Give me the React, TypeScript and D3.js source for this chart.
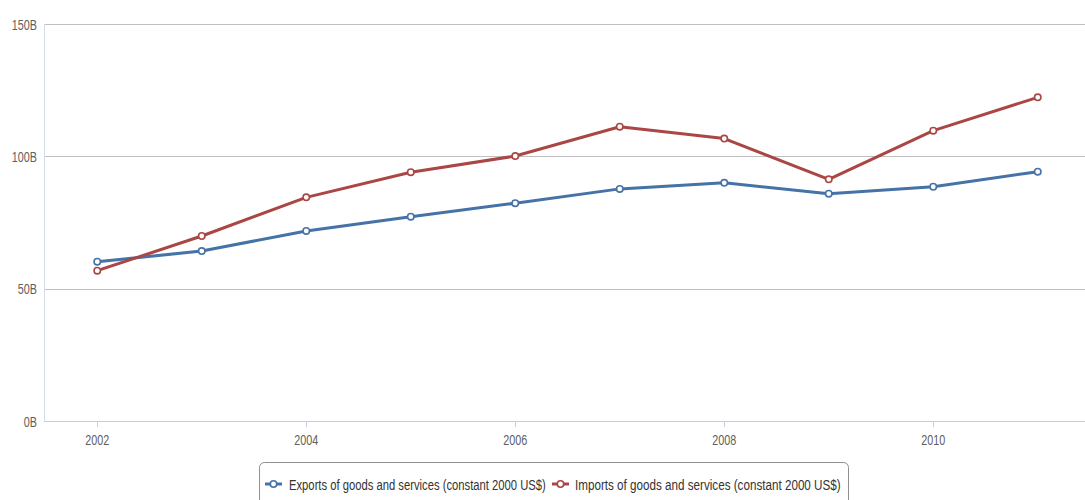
import React from "react";
import * as d3 from "d3";

const years = [2002, 2003, 2004, 2005, 2006, 2007, 2008, 2009, 2010, 2011];
const exportsB = [60.2, 64.2, 71.8, 77.2, 82.3, 87.7, 90.0, 85.9, 88.5, 94.2];
const importsB = [56.8, 69.9, 84.5, 94.0, 100.1, 111.2, 106.7, 91.3, 109.7, 122.3];
const yTicks = [0, 50, 100, 150];
const xTicks = [2002, 2004, 2006, 2008, 2010];
const seriesNames = [
  "Exports of goods and services (constant 2000 US$)",
  "Imports of goods and services (constant 2000 US$)",
];
const seriesColors = ["#4572A7", "#AA4643"];

const W = 1085;
const H = 500;
const FONT_NAME = "Liberation Sans";
const FONT = `'${FONT_NAME}', Arial, sans-serif`;

// Width of a string in the chart font, used to squeeze text into a condensed look.
let measureCtx: CanvasRenderingContext2D | null = null;
function textWidth(s: string, size: number): number {
  if (!measureCtx) {
    const c = document.createElement("canvas");
    measureCtx = c.getContext("2d");
  }
  if (!measureCtx) return s.length * size * 0.55;
  measureCtx.font = `${size}px '${FONT_NAME}', Arial, sans-serif`;
  return measureCtx.measureText(s).width;
}

function NarrowText(props: {
  x: number;
  y: number;
  anchor: "start" | "middle" | "end";
  size: number;
  fill: string;
  sx: number;
  children: string;
}) {
  return (
    <text
      transform={`translate(${props.x},${props.y}) scale(${props.sx},1)`}
      textAnchor={props.anchor}
      fontSize={props.size}
      fill={props.fill}
    >
      {props.children}
    </text>
  );
}

export default function App() {
  const x = d3.scaleLinear().domain([2001.5, 2011.5]).range([45, 1090]);
  const y = d3.scaleLinear().domain([0, 150]).range([421, 24]);
  const line = d3
    .line<number>()
    .x((_, i) => x(years[i]))
    .y((d) => y(d));

  const series = [exportsB, importsB];

  // legend layout
  const legendX = 259;
  const legendY = 462;
  const legendW = 589;
  const legendH = 44;
  const legendMidY = 484;
  const symbolStarts = [265, 552];
  const textStarts = [289, 575];
  const textWidths = [257, 266];
  const legendSize = 15;

  const axisSize = 15;
  const axisSx = 0.72;

  return (
    <div style={{ position: "absolute", left: 0, top: 0 }}>
      <svg width={W} height={H} style={{ display: "block", background: "#fff" }} fontFamily={FONT}>
        {/* horizontal grid */}
        {yTicks.map((t) =>
          t === 0 ? null : (
            <line key={t} x1={44} x2={W} y1={Math.round(y(t)) + 0.5} y2={Math.round(y(t)) + 0.5} stroke="#C0C0C0" strokeWidth={1} />
          )
        )}
        {/* y axis line */}
        <line x1={44.5} x2={44.5} y1={24} y2={421} stroke="#D4DCE6" strokeWidth={1} />
        {/* x axis line */}
        <line x1={44} x2={W} y1={421.5} y2={421.5} stroke="#C0D0E0" strokeWidth={1} />
        {xTicks.map((t) => (
          <line key={t} x1={Math.round(x(t)) + 0.5} x2={Math.round(x(t)) + 0.5} y1={421} y2={427} stroke="#C0D0E0" strokeWidth={1} />
        ))}
        {/* y labels */}
        {yTicks.map((t) => (
          <NarrowText key={t} x={37} y={y(t) + 5.5} anchor="end" size={axisSize} sx={axisSx} fill="#606060">
            {`${t}B`}
          </NarrowText>
        ))}
        {/* x labels */}
        {xTicks.map((t) => (
          <NarrowText key={t} x={x(t)} y={445} anchor="middle" size={axisSize} sx={axisSx} fill="#606060">
            {String(t)}
          </NarrowText>
        ))}
        {/* series */}
        {series.map((s, si) => (
          <g key={si}>
            <path d={line(s) || ""} fill="none" stroke={seriesColors[si]} strokeWidth={3} strokeLinejoin="round" />
            {s.map((v, i) => (
              <circle key={i} cx={x(years[i])} cy={y(v)} r={3.2} fill="#fff" stroke={seriesColors[si]} strokeWidth={1.6} />
            ))}
          </g>
        ))}
        {/* legend */}
        <rect x={legendX + 0.5} y={legendY + 0.5} width={legendW} height={legendH} rx={5} ry={5} fill="#fff" stroke="#909090" strokeWidth={1} />
        {seriesNames.map((name, i) => (
          <g key={name}>
            <line x1={symbolStarts[i]} x2={symbolStarts[i] + 17} y1={legendMidY} y2={legendMidY} stroke={seriesColors[i]} strokeWidth={3} />
            <circle cx={symbolStarts[i] + 8.5} cy={legendMidY} r={3.2} fill="#fff" stroke={seriesColors[i]} strokeWidth={1.6} />
            <NarrowText
              x={textStarts[i]}
              y={legendMidY + 5.5}
              anchor="start"
              size={legendSize}
              sx={textWidths[i] / textWidth(name, legendSize)}
              fill="#333"
            >
              {name}
            </NarrowText>
          </g>
        ))}
      </svg>
    </div>
  );
}
